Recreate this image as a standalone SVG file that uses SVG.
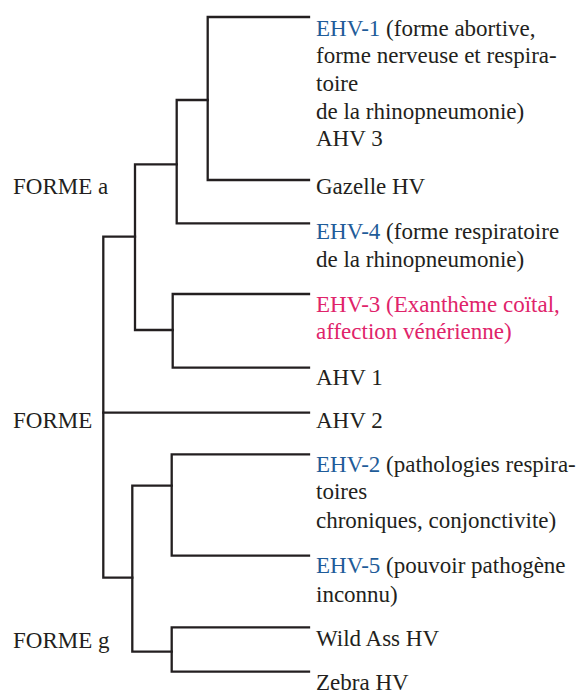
<svg xmlns="http://www.w3.org/2000/svg" width="581" height="693" viewBox="0 0 581 693">
<rect width="581" height="693" fill="#ffffff"/>
<g id="connectors" fill="none" stroke="#231f20" stroke-width="2.3" stroke-linecap="square">
<path d="M309,17 H207.7 V180 H309"/>
<path d="M207.7,100 H176.7 V223.3 H309"/>
<path d="M176.7,164.3 H135 V330 H172.7"/>
<path d="M309,294 H172.7 V367.7 H309"/>
<path d="M135,236.7 H103.3 V577.7 H132.3"/>
<path d="M103.3,412.7 H309"/>
<path d="M171.7,485.7 H132.3 V651.7 H171.7"/>
<path d="M309,454.3 H171.7 V555.7 H309"/>
<path d="M309,627.3 H171.7 V671.7 H309"/>
</g>
<g id="forme-a"><text x="13" y="194" font-family="Times New Roman" font-size="23" fill="#231f20">FORME a</text></g>
<g id="forme"><text x="13" y="428" font-family="Times New Roman" font-size="23" fill="#231f20">FORME</text></g>
<g id="forme-g"><text x="13" y="648" font-family="Times New Roman" font-size="23" fill="#231f20">FORME g</text></g>
<g id="ehv1">
<text x="316" y="35.5" font-family="Times New Roman" font-size="23" fill="#231f20"><tspan fill="#1f5c99">EHV-1</tspan> (forme abortive,</text>
<text x="316" y="63.2" font-family="Times New Roman" font-size="23" fill="#231f20">forme nerveuse et respira-</text>
<text x="316" y="90.9" font-family="Times New Roman" font-size="23" fill="#231f20">toire</text>
<text x="316" y="118.6" font-family="Times New Roman" font-size="23" fill="#231f20">de la rhinopneumonie)</text>
<text x="316" y="146.3" font-family="Times New Roman" font-size="23" fill="#231f20">AHV 3</text>
</g>
<g id="gazelle"><text x="316" y="193.5" font-family="Times New Roman" font-size="23" fill="#231f20">Gazelle HV</text></g>
<g id="ehv4">
<text x="316" y="239.3" font-family="Times New Roman" font-size="23" fill="#231f20"><tspan fill="#1f5c99">EHV-4</tspan> (forme respiratoire</text>
<text x="316" y="266.8" font-family="Times New Roman" font-size="23" fill="#231f20">de la rhinopneumonie)</text>
</g>
<g id="ehv3">
<text x="316" y="311.5" font-family="Times New Roman" font-size="23" fill="#e0236a">EHV-3 (Exanthème coïtal,</text>
<text x="316" y="339.2" font-family="Times New Roman" font-size="23" fill="#e0236a">affection vénérienne)</text>
</g>
<g id="ahv1"><text x="316" y="385" font-family="Times New Roman" font-size="23" fill="#231f20">AHV 1</text></g>
<g id="ahv2"><text x="316" y="428.3" font-family="Times New Roman" font-size="23" fill="#231f20">AHV 2</text></g>
<g id="ehv2">
<text x="316" y="471.6" font-family="Times New Roman" font-size="23" fill="#231f20"><tspan fill="#1f5c99">EHV-2</tspan> (pathologies respira-</text>
<text x="316" y="499.3" font-family="Times New Roman" font-size="23" fill="#231f20">toires</text>
<text x="316" y="528" font-family="Times New Roman" font-size="23" fill="#231f20">chroniques, conjonctivite)</text>
</g>
<g id="ehv5">
<text x="316" y="573.3" font-family="Times New Roman" font-size="23" fill="#231f20"><tspan fill="#1f5c99">EHV-5</tspan> (pouvoir pathogène</text>
<text x="316" y="601.5" font-family="Times New Roman" font-size="23" fill="#231f20">inconnu)</text>
</g>
<g id="wildass"><text x="316" y="646.3" font-family="Times New Roman" font-size="23" fill="#231f20">Wild Ass HV</text></g>
<g id="zebra"><text x="316" y="689.5" font-family="Times New Roman" font-size="23" fill="#231f20">Zebra HV</text></g>
</svg>
